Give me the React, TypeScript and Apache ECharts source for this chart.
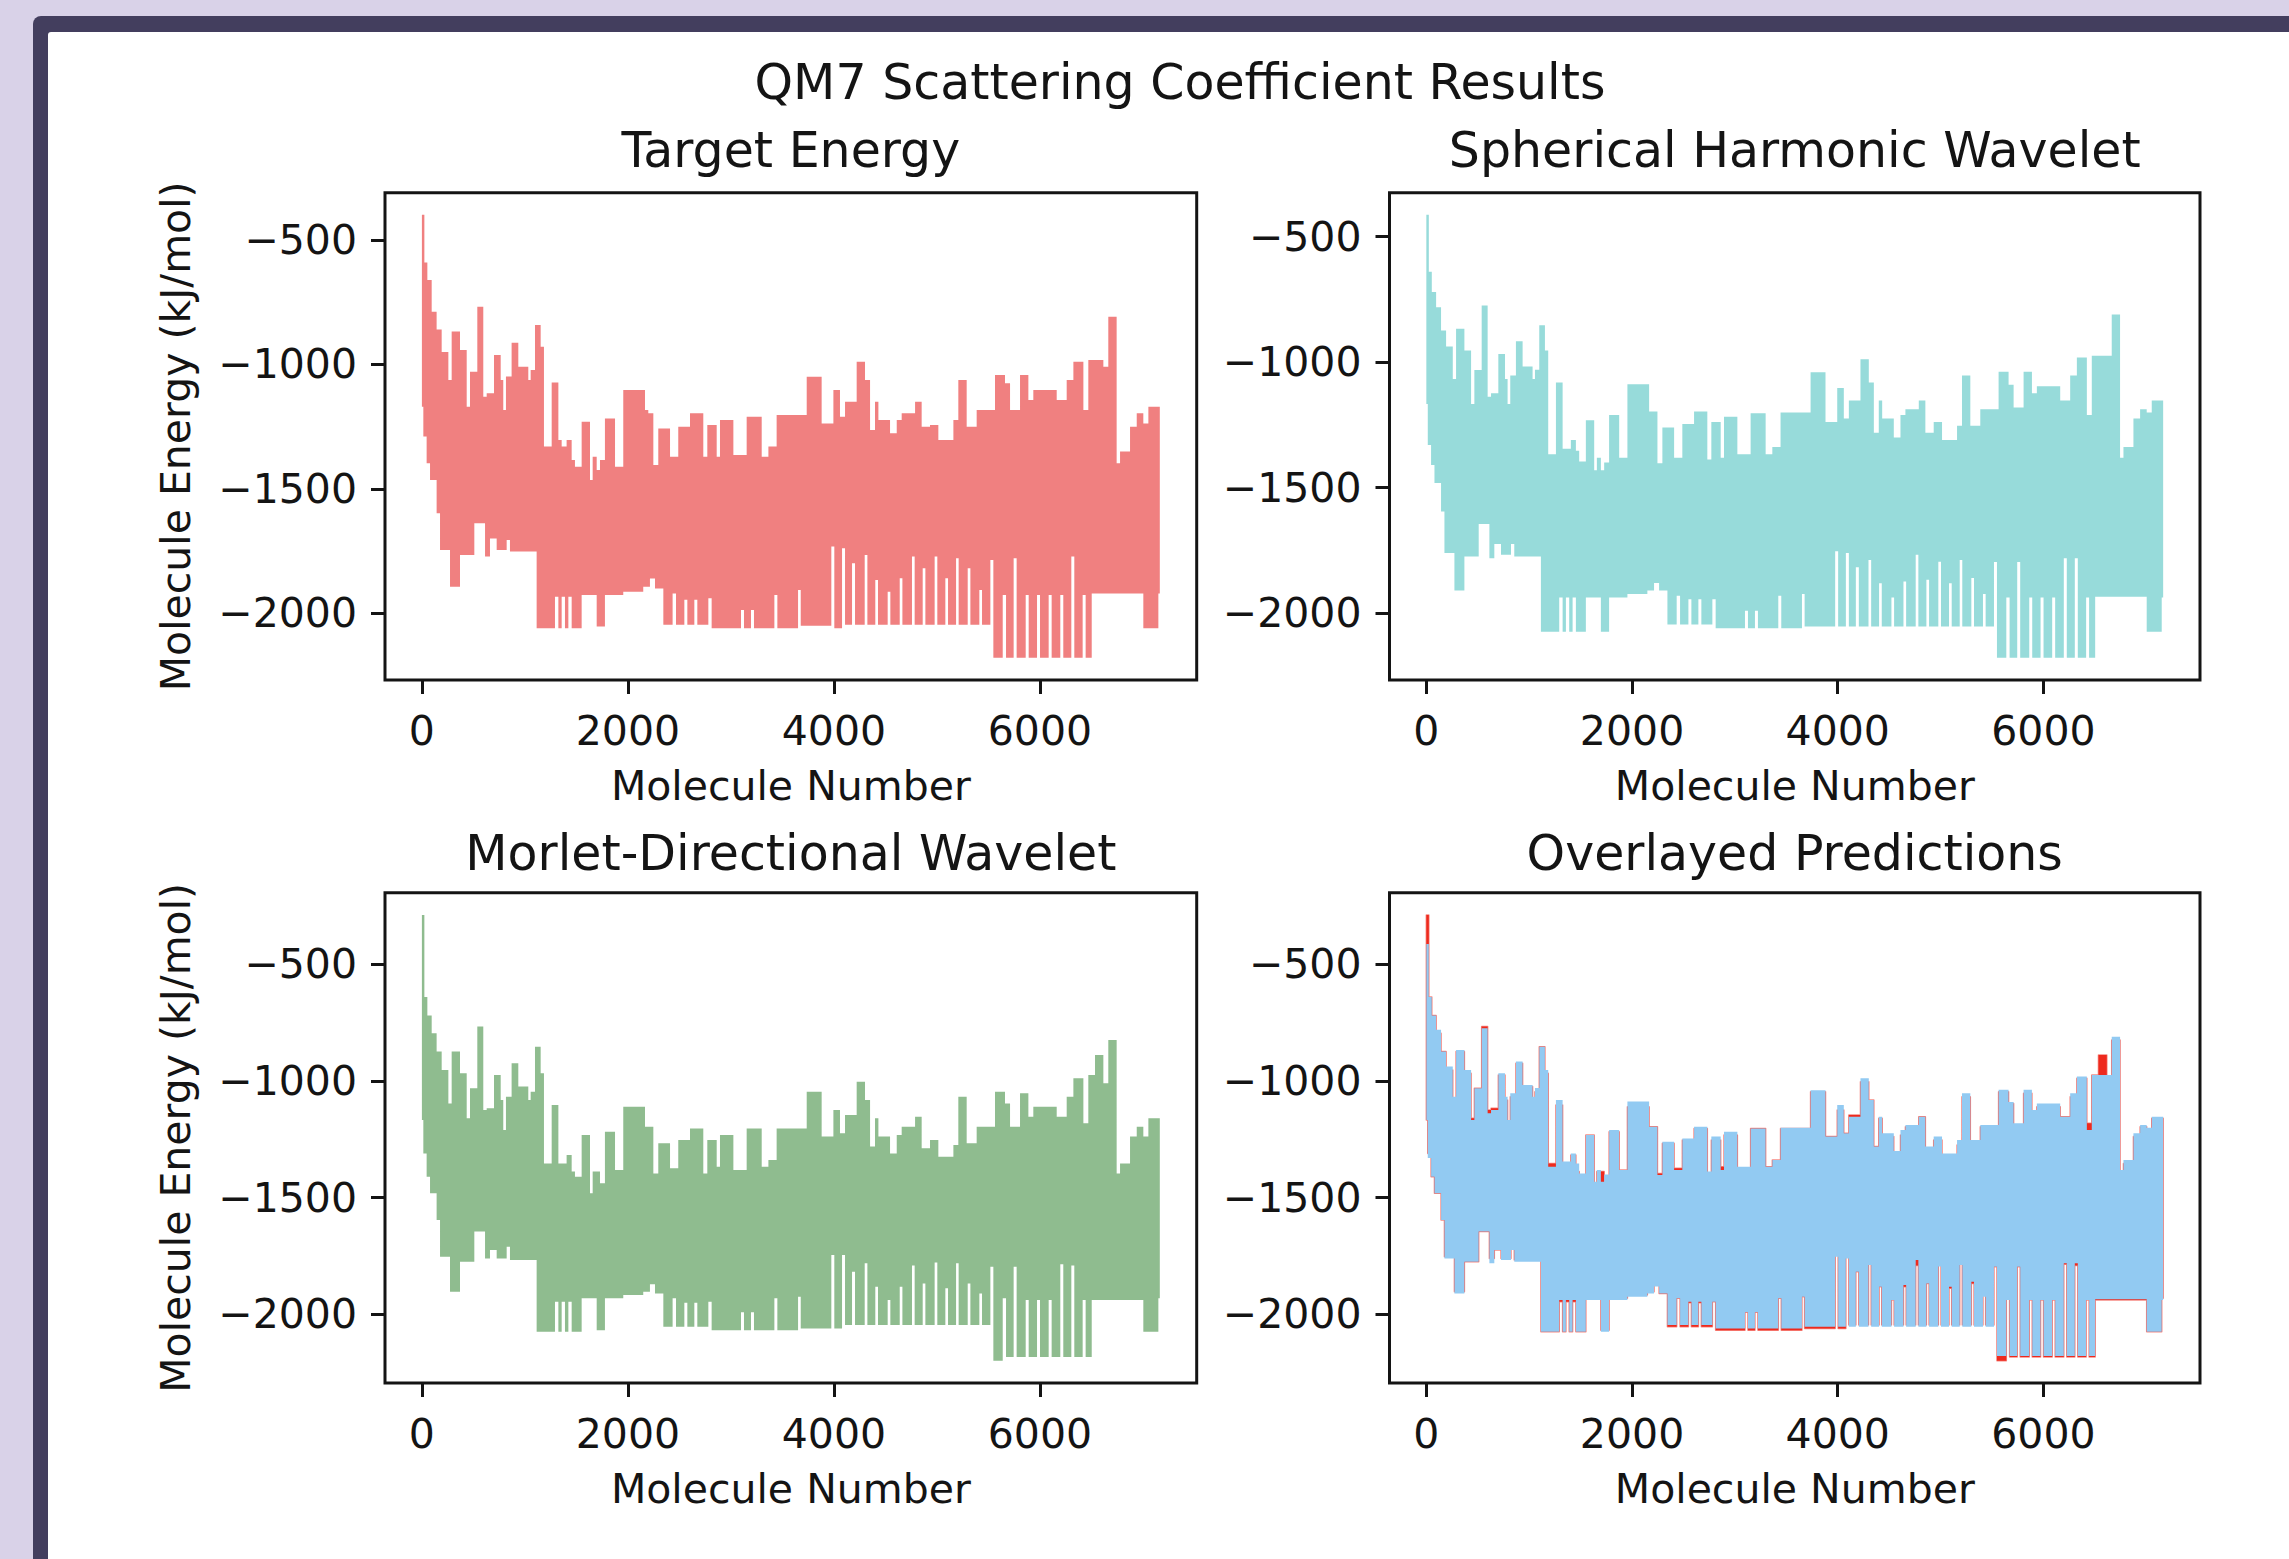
import React, { useEffect, useRef } from "react";
import * as echarts from "echarts";

// ---------------- data ----------------
const moleculeCount = 7165;
const xTickValues = [0, 2000, 4000, 6000];
const yTickValues = [-2000, -1500, -1000, -500];

const mainTitle = "QM7 Scattering Coefficient Results";
const panelTitles = [
  "Target Energy",
  "Spherical Harmonic Wavelet",
  "Morlet-Directional Wavelet",
  "Overlayed Predictions",
];
const xAxisLabel = "Molecule Number";
const yAxisLabel = "Molecule Energy (kJ/mol)";

// upper envelope of the dense line plot: segment start (molecule index)
const upperX = [
  0, 24, 53, 95, 143, 192, 257, 289, 370, 435, 467, 538, 596, 629, 700, 765, 790, 816, 871, 936,
  1033, 1056, 1098, 1153, 1185, 1260, 1325, 1357, 1405, 1454, 1486, 1551, 1632, 1658, 1697, 1729,
  1777, 1875, 1955, 2166, 2198, 2247, 2295, 2409, 2489, 2603, 2732, 2771, 2862, 2894, 3024, 3153,
  3299, 3364, 3444, 3736, 3881, 3995, 4059, 4108, 4221, 4302, 4351, 4399, 4432, 4545, 4610, 4658,
  4788, 4852, 4933, 5014, 5160, 5208, 5289, 5386, 5564, 5661, 5710, 5807, 5888, 5936, 6163, 6260,
  6325, 6422, 6470, 6535, 6616, 6664, 6745, 6778, 6875, 6940, 7004, 7053,
];
const targetUpper = [
  -399, -590, -661, -788, -860, -950, -1063, -868, -942, -1170,
  -1029, -768, -1130, -1116, -962, -1063, -1183, -1049, -913, -1009,
  -1063, -1022, -842, -929, -1330, -1073, -1304, -1330, -1304, -1384,
  -1411, -1230, -1464, -1371, -1424, -1384, -1217, -1411, -1103, -1183,
  -1196, -1404, -1257, -1371, -1250, -1196, -1371, -1243, -1371, -1223,
  -1364, -1210, -1371, -1330, -1203, -1050, -1237, -1103, -1210, -1150,
  -989, -1063, -1263, -1150, -1223, -1277, -1223, -1196, -1150, -1250,
  -1243, -1304, -1223, -1063, -1250, -1183, -1042, -1076, -1183, -1042,
  -1143, -1103, -1143, -1063, -989, -1183, -982, -982, -1009, -808,
  -1397, -1350, -1250, -1196, -1237, -1170,
];
const sphericalUpper = [
  -413, -640, -720, -781, -874, -938, -1067, -867, -953, -1167,
  -1031, -774, -1138, -1124, -967, -1067, -1167, -1053, -917, -1017,
  -1067, -1030, -853, -953, -1367, -1081, -1345, -1345, -1310, -1353,
  -1396, -1231, -1431, -1381, -1431, -1400, -1210, -1381, -1088, -1196,
  -1196, -1403, -1260, -1381, -1246, -1196, -1388, -1238, -1381, -1217,
  -1367, -1203, -1367, -1338, -1200, -1040, -1238, -1103, -1224, -1153,
  -988, -1081, -1281, -1153, -1224, -1300, -1210, -1188, -1153, -1281,
  -1238, -1310, -1253, -1053, -1253, -1188, -1038, -1090, -1181, -1038,
  -1124, -1096, -1153, -1053, -981, -1210, -974, -974, -974, -810,
  -1381, -1338, -1224, -1188, -1200, -1153,
];
const morletUpper = [
  -289, -640, -720, -796, -874, -953, -1096, -874, -967, -1160,
  -1031, -767, -1124, -1117, -974, -1081, -1210, -1067, -924, -1024,
  -1081, -1046, -853, -967, -1353, -1103, -1353, -1353, -1317, -1388,
  -1410, -1231, -1481, -1388, -1388, -1438, -1217, -1381, -1110, -1196,
  -1196, -1396, -1267, -1374, -1253, -1203, -1396, -1253, -1367, -1231,
  -1381, -1203, -1367, -1338, -1203, -1046, -1238, -1124, -1224, -1146,
  -1003, -1081, -1281, -1160, -1238, -1310, -1231, -1196, -1153, -1288,
  -1253, -1324, -1274, -1067, -1267, -1196, -1046, -1096, -1196, -1053,
  -1153, -1110, -1153, -1067, -988, -1181, -974, -889, -1010, -824,
  -1396, -1353, -1238, -1196, -1238, -1160,
];

// lower envelope: segment start (molecule index)
const lowerX = [
  0, 14, 46, 79, 143, 176, 273, 370, 509, 613, 661, 726, 823, 855, 1114, 1292, 1325, 1357, 1389,
  1422, 1454, 1551, 1697, 1777, 1955, 2149, 2214, 2263, 2344, 2434, 2467, 2548, 2577, 2645, 2674,
  2781, 2813, 3098, 3127, 3195, 3224, 3422, 3451, 3652, 3678, 3975, 4004, 4079, 4108, 4176, 4205,
  4299, 4325, 4402, 4428, 4522, 4548, 4639, 4665, 4758, 4784, 4862, 4888, 4978, 5004, 5082, 5108,
  5186, 5211, 5299, 5325, 5412, 5438, 5519, 5548, 5639, 5671, 5745, 5774, 5862, 5891, 5972, 6001,
  6085, 6114, 6198, 6227, 6305, 6334, 6415, 6444, 6503, 7004, 7150,
];
const targetLower = [
  -1170, -1290, -1397, -1464, -1598, -1746, -1893, -1766, -1638, -1772,
  -1699, -1746, -1705, -1752, -2060, -1933, -2060, -1933, -2060, -1933,
  -2060, -1926, -2053, -1926, -1913, -1893, -1860, -1900, -2046, -1920,
  -2046, -1946, -2046, -1946, -2046, -1940, -2060, -1987, -2060, -1987,
  -2060, -1926, -2060, -1906, -2050, -1732, -2060, -1739, -2046, -1799,
  -2046, -1766, -2046, -1866, -2046, -1913, -2046, -1859, -2046, -1772,
  -2046, -1819, -2046, -1772, -2046, -1859, -2046, -1779, -2046, -1819,
  -2046, -1906, -2046, -1786, -2179, -1926, -2179, -1779, -2179, -1926,
  -2179, -1926, -2179, -1926, -2179, -1926, -2179, -1772, -2179, -1926,
  -2179, -1920, -2060, -1920,
];
const sphericalLower = [
  -1167, -1330, -1410, -1481, -1595, -1760, -1910, -1774, -1645, -1781,
  -1724, -1767, -1724, -1774, -2074, -1938, -2074, -1938, -2074, -1938,
  -2074, -1938, -2074, -1938, -1924, -1910, -1880, -1910, -2045, -1931,
  -2045, -1945, -2045, -1945, -2045, -1945, -2060, -1990, -2060, -1990,
  -2060, -1931, -2060, -1924, -2053, -1753, -2053, -1760, -2053, -1817,
  -2053, -1788, -2053, -1881, -2053, -1938, -2053, -1874, -2053, -1767,
  -2053, -1867, -2053, -1795, -2053, -1881, -2053, -1788, -2053, -1860,
  -2053, -1924, -2053, -1796, -2178, -1938, -2178, -1796, -2178, -1938,
  -2178, -1938, -2178, -1938, -2178, -1781, -2178, -1781, -2178, -1938,
  -2178, -1935, -2074, -1938,
];
const morletLower = [
  -1167, -1310, -1410, -1481, -1595, -1753, -1903, -1774, -1645, -1760,
  -1724, -1760, -1710, -1767, -2074, -1945, -2074, -1945, -2074, -1945,
  -2074, -1931, -2067, -1931, -1917, -1903, -1870, -1910, -2053, -1931,
  -2053, -1950, -2053, -1950, -2053, -1945, -2067, -1990, -2067, -1990,
  -2067, -1931, -2067, -1924, -2060, -1745, -2060, -1745, -2045, -1817,
  -2045, -1781, -2045, -1881, -2045, -1938, -2045, -1881, -2045, -1790,
  -2045, -1867, -2045, -1777, -2045, -1888, -2045, -1781, -2045, -1867,
  -2045, -1910, -2045, -1796, -2198, -1931, -2182, -1796, -2182, -1938,
  -2182, -1938, -2182, -1938, -2182, -1785, -2182, -1790, -2182, -1938,
  -2182, -1938, -2074, -1931,
];

// ---------------- styling ----------------
const FONT = "DejaVu Sans";
const INK = "#141414";
const COLORS = {
  target: "#F08080",
  spherical: "#97DBDA",
  morlet: "#8FBC8F",
  overlayBlue: "#92CAF2",
  overlayRed: "#EE2A1E",
  overlayRedEdge: "rgba(238,42,30,0.55)",
};
const GRIDS = [
  { left: 385, top: 192.7, width: 811.7, height: 487.3 },
  { left: 1389.5, top: 192.7, width: 810.5, height: 487.3 },
  { left: 385, top: 892.7, width: 811.7, height: 490.3 },
  { left: 1389.5, top: 892.7, width: 810.5, height: 490.3 },
];
const TITLE_Y = [150.4, 150.4, 853.5, 853.5];

// ---------------- helpers ----------------
function stepAt(xs: number[], ys: number[], x: number) {
  let v = ys[0];
  for (let i = 0; i < xs.length && xs[i] <= x; i++) v = ys[i];
  return v;
}

function buildRows(upY: number[], loY: number[]) {
  const lastX = moleculeCount - 1;
  const xs = Array.from(new Set([...upperX, ...lowerX, lastX])).sort((a, b) => a - b);
  return xs.map((x) => [x, stepAt(lowerX, loY, x), stepAt(upperX, upY, x)]);
}

function yRange(rowsList: number[][][]) {
  let lo = Infinity;
  let hi = -Infinity;
  rowsList.forEach((rows) =>
    rows.forEach((r) => {
      lo = Math.min(lo, r[1]);
      hi = Math.max(hi, r[2]);
    })
  );
  const pad = 0.05 * (hi - lo);
  return [lo - pad, hi + pad];
}

function bandSeries(gridIndex: number, rows: number[][], fill: string, z: number, stroke?: string, strokeWidth?: number) {
  return {
    type: "custom",
    coordinateSystem: "cartesian2d",
    xAxisIndex: gridIndex,
    yAxisIndex: gridIndex,
    z,
    silent: true,
    data: rows,
    encode: { x: 0, y: [1, 2] },
    renderItem: (params: any, api: any) => {
      if (params.dataIndex !== 0) return null;
      const pts: number[][] = [];
      for (let i = 0; i < rows.length - 1; i++) {
        pts.push(api.coord([rows[i][0], rows[i][2]]));
        pts.push(api.coord([rows[i + 1][0], rows[i][2]]));
      }
      for (let i = rows.length - 2; i >= 0; i--) {
        pts.push(api.coord([rows[i + 1][0], rows[i][1]]));
        pts.push(api.coord([rows[i][0], rows[i][1]]));
      }
      return {
        type: "polygon",
        shape: { points: pts },
        style: {
          fill,
          stroke: stroke || "none",
          lineWidth: strokeWidth || 0,
          lineJoin: "round",
        },
      };
    },
  };
}

const fmt = (v: number) => (v < 0 ? "\u2212" + String(-v) : String(v));

export default function App() {
  const ref = useRef<HTMLDivElement>(null);

  useEffect(() => {
    if (!ref.current) return;
    const chart = echarts.init(ref.current, undefined, { renderer: "svg" });

    const targetRows = buildRows(targetUpper, targetLower);
    const sphericalRows = buildRows(sphericalUpper, sphericalLower);
    const morletRows = buildRows(morletUpper, morletLower);

    const xMin = -0.05 * (moleculeCount - 1);
    const xMax = 1.05 * (moleculeCount - 1);
    const yRanges = [
      yRange([targetRows]),
      yRange([sphericalRows]),
      yRange([morletRows]),
      yRange([morletRows, sphericalRows]),
    ];

    const labelStyle = { fontFamily: FONT, fontSize: 41, color: INK };

    const xAxes = GRIDS.map((_, i) => ({
      type: "value",
      gridIndex: i,
      position: "bottom",
      min: xMin,
      max: xMax,
      axisLine: { show: false, onZero: false },
      splitLine: { show: false },
      axisTick: { show: true, inside: false, length: 14, lineStyle: { color: INK, width: 3 }, customValues: xTickValues },
      axisLabel: { ...labelStyle, margin: 30, customValues: xTickValues, formatter: fmt },
    }));
    const yAxes = GRIDS.map((_, i) => ({
      type: "value",
      gridIndex: i,
      position: "left",
      min: yRanges[i][0],
      max: yRanges[i][1],
      axisLine: { show: false, onZero: false },
      splitLine: { show: false },
      axisTick: { show: true, inside: false, length: 14, lineStyle: { color: INK, width: 3 }, customValues: yTickValues },
      axisLabel: { ...labelStyle, margin: 28, customValues: yTickValues, formatter: fmt },
    }));

    const texts: any[] = [];
    const txt = (text: string, x: number, y: number, size: number, rotation = 0) =>
      texts.push({
        type: "text",
        x,
        y,
        rotation,
        silent: true,
        style: { text, fontFamily: FONT, fontSize: size, fill: INK, align: "center", verticalAlign: "middle" },
      });
    txt(mainTitle, 1180, 82, 49);
    GRIDS.forEach((g, i) => {
      const cx = g.left + g.width / 2;
      txt(panelTitles[i], cx, TITLE_Y[i], 49);
      txt(xAxisLabel, cx, g.top + g.height + 105.5, 41);
      if (i % 2 === 0) txt(yAxisLabel, 176, g.top + g.height / 2, 41, Math.PI / 2);
    });

    chart.setOption({
      animation: false,
      backgroundColor: "transparent",
      grid: GRIDS.map((g) => ({
        ...g,
        show: true,
        borderColor: INK,
        borderWidth: 3,
        backgroundColor: "transparent",
        containLabel: false,
      })),
      xAxis: xAxes,
      yAxis: yAxes,
      series: [
        bandSeries(0, targetRows, COLORS.target, 2),
        bandSeries(1, sphericalRows, COLORS.spherical, 2),
        bandSeries(2, morletRows, COLORS.morlet, 2),
        bandSeries(3, morletRows, COLORS.overlayRed, 2, COLORS.overlayRedEdge, 1.5),
        bandSeries(3, sphericalRows, COLORS.overlayBlue, 3),
      ],
      graphic: texts,
    });

    return () => chart.dispose();
  }, []);

  return (
    <div style={{ position: "absolute", left: 0, top: 0, width: 2289, height: 1559, background: "#D9D2E8", overflow: "hidden" }}>
      <div style={{ position: "absolute", left: 33, top: 16, width: 2289 - 33 + 20, height: 1559, background: "#433E5E", borderTopLeftRadius: 8 }} />
      <div style={{ position: "absolute", left: 48, top: 32, width: 2289 - 48 + 20, height: 1559, background: "#FFFFFF", borderTopLeftRadius: 3 }} />
      <div ref={ref} style={{ position: "absolute", left: 0, top: 0, width: 2289, height: 1559 }} />
    </div>
  );
}
